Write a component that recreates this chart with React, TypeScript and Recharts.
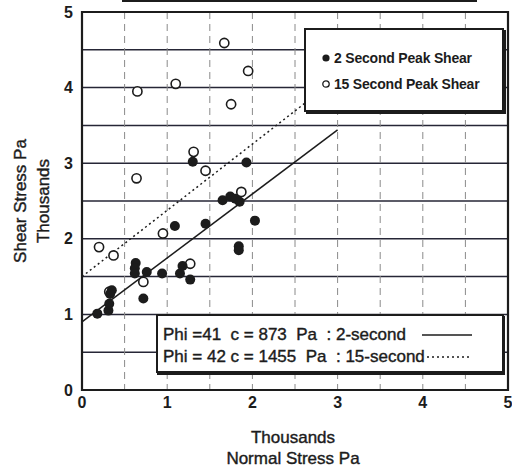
import React from 'react';
import { ScatterChart, Scatter, XAxis, YAxis, CartesianGrid, ReferenceArea } from 'recharts';

const axisTicks = [0, 0.5, 1, 1.5, 2, 2.5, 3, 3.5, 4, 4.5, 5];

const twoSecondPeak = [
  { x: 0.18, y: 1.01 }, { x: 0.31, y: 1.05 }, { x: 0.32, y: 1.14 }, { x: 0.35, y: 1.32 },
  { x: 0.33, y: 1.27 }, { x: 0.63, y: 1.68 }, { x: 0.62, y: 1.61 }, { x: 0.62, y: 1.54 },
  { x: 0.76, y: 1.56 }, { x: 0.72, y: 1.21 }, { x: 0.94, y: 1.54 }, { x: 1.09, y: 2.17 },
  { x: 1.15, y: 1.54 }, { x: 1.18, y: 1.64 }, { x: 1.27, y: 1.46 }, { x: 1.30, y: 3.02 },
  { x: 1.45, y: 2.20 }, { x: 1.65, y: 2.51 }, { x: 1.74, y: 2.56 }, { x: 1.80, y: 2.53 },
  { x: 1.85, y: 2.49 }, { x: 1.84, y: 1.90 }, { x: 1.84, y: 1.85 }, { x: 1.93, y: 3.01 },
  { x: 2.03, y: 2.24 },
];

const fifteenSecondPeak = [
  { x: 0.20, y: 1.89 }, { x: 0.37, y: 1.78 }, { x: 0.32, y: 1.30 }, { x: 0.64, y: 2.80 },
  { x: 0.65, y: 3.95 }, { x: 0.72, y: 1.43 }, { x: 0.95, y: 2.07 }, { x: 1.10, y: 4.05 },
  { x: 1.27, y: 1.67 }, { x: 1.31, y: 3.15 }, { x: 1.45, y: 2.90 }, { x: 1.67, y: 4.59 },
  { x: 1.75, y: 3.78 }, { x: 1.87, y: 2.62 }, { x: 1.95, y: 4.22 },
];

const twoSecondFit = [{ x: 0, y: 0.9 }, { x: 3.0, y: 3.44 }];
const fifteenSecondFit = [{ x: 0, y: 1.5 }, { x: 3.0, y: 4.13 }];

const legendLabels = ['2 Second Peak Shear', '15 Second Peak Shear'];
const fitLabels = ['Phi =41  c = 873  Pa  : 2-second', 'Phi = 42 c = 1455  Pa  : 15-second'];
const xTitle = ['Thousands', 'Normal Stress Pa'];
const yTitle = ['Shear Stress Pa', 'Thousands'];

const INK = '#1c1c1c';
const FONT = '"Liberation Sans", Arial, sans-serif';

const fmt = (v: number) => (Number.isInteger(v) ? String(v) : '');

const FilledDot = (p: any) => <circle cx={p.cx} cy={p.cy} r={5} fill={INK} />;
const OpenDot = (p: any) => (
  <circle cx={p.cx} cy={p.cy} r={4.6} fill="#fff" stroke={INK} strokeWidth={1.6} />
);
const NoDot = () => <g />;

const YTitle = (props: any) => {
  const vb = props.viewBox;
  const cy = vb.y + vb.height / 2;
  const x1 = vb.x + 20;
  const x2 = vb.x + 43;
  return (
    <g fontFamily={FONT} fontSize={17} fill={INK} stroke={INK} strokeWidth={0.4}>
      <text x={x1} y={cy} textAnchor="middle" dominantBaseline="central" transform={`rotate(-90, ${x1}, ${cy})`}>{yTitle[0]}</text>
      <text x={x2} y={cy} textAnchor="middle" dominantBaseline="central" transform={`rotate(-90, ${x2}, ${cy})`}>{yTitle[1]}</text>
    </g>
  );
};

const XTitle = (props: any) => {
  const vb = props.viewBox;
  const cx = vb.x + vb.width / 2 - 2;
  return (
    <g fontFamily={FONT} fontSize={17} fill={INK} stroke={INK} strokeWidth={0.4}>
      <text x={cx} y={vb.y + 47} textAnchor="middle" dominantBaseline="central">{xTitle[0]}</text>
      <text x={cx} y={vb.y + 68} textAnchor="middle" dominantBaseline="central">{xTitle[1]}</text>
    </g>
  );
};

export default function App() {
  return (
    <div style={{ position: 'absolute', left: 0, top: 0, width: 512, height: 472, background: '#fff', fontFamily: FONT }}>
      <div style={{ position: 'absolute', left: 122, top: 0, width: 355, height: 2, background: INK }} />
      <ScatterChart width={512} height={472} margin={{ top: 12, right: 4, bottom: 0, left: 0 }}>
        <CartesianGrid vertical={false} stroke="#262636" strokeWidth={1.5} />
        <CartesianGrid horizontal={false} stroke="#8a8a8a" strokeWidth={1} strokeDasharray="7 5" />
        <XAxis
          type="number"
          dataKey="x"
          domain={[0, 5]}
          ticks={axisTicks}
          tickFormatter={fmt}
          interval={0}
          height={82}
          axisLine={false}
          tickLine={false}
          tickSize={0}
          tickMargin={7}
          tick={{ fontSize: 16, fontWeight: 'bold', fill: INK, fontFamily: FONT }}
          label={XTitle}
        />
        <YAxis
          type="number"
          dataKey="y"
          domain={[0, 5]}
          ticks={axisTicks}
          tickFormatter={fmt}
          interval={0}
          width={82}
          axisLine={false}
          tickLine={false}
          tickSize={0}
          tickMargin={9}
          tick={{ fontSize: 16, fontWeight: 'bold', fill: INK, fontFamily: FONT }}
          label={YTitle}
        />
        <ReferenceArea x1={0} x2={5} y1={0} y2={5} fill="none" stroke={INK} strokeWidth={2.2} ifOverflow="visible" />
        <Scatter data={fifteenSecondFit} line={{ stroke: INK, strokeWidth: 1.5, strokeDasharray: '2 3' }} shape={NoDot} isAnimationActive={false} />
        <Scatter data={twoSecondFit} line={{ stroke: INK, strokeWidth: 1.5 }} shape={NoDot} isAnimationActive={false} />
        <Scatter data={fifteenSecondPeak} shape={OpenDot} isAnimationActive={false} />
        <Scatter data={twoSecondPeak} shape={FilledDot} isAnimationActive={false} />
      </ScatterChart>

      <div style={{ position: 'absolute', left: 304, top: 28, width: 196, height: 80, background: '#fff', border: `2px solid ${INK}`, boxShadow: `2px 2px 0 ${INK}` }}>
        {legendLabels.map((t, i) => (
          <div key={t} style={{ position: 'absolute', left: 15, top: 19 + i * 26, height: 18, display: 'flex', alignItems: 'center', whiteSpace: 'pre', fontSize: 14, fontWeight: 'bold', color: INK, letterSpacing: -0.2 }}>
            <svg width={10} height={10} style={{ marginRight: 3 }}>
              {i === 0 ? <circle cx={5} cy={5} r={3.6} fill={INK} /> : <circle cx={5} cy={5} r={3.2} fill="#fff" stroke={INK} strokeWidth={1.3} />}
            </svg>
            {t}
          </div>
        ))}
      </div>

      <div style={{ position: 'absolute', left: 156, top: 314, width: 344, height: 55, background: '#fff', border: `2px solid ${INK}`, boxShadow: `1px 2px 0 ${INK}` }}>
        {fitLabels.map((t, i) => (
          <div key={t} style={{ position: 'absolute', left: 5, top: 9 + i * 22, height: 20, display: 'flex', alignItems: 'center', whiteSpace: 'pre', fontSize: 17, color: INK, WebkitTextStroke: `0.4px ${INK}` }}>
            {t}
            <svg width={i === 0 ? 62 : 48} height={6} style={{ marginLeft: i === 0 ? 16 : 2 }}>
              <line x1={0} y1={3} x2={i === 0 ? 50 : 44} y2={3} stroke={INK} strokeWidth={1.6} strokeDasharray={i === 0 ? undefined : '2 3'} />
            </svg>
          </div>
        ))}
      </div>
    </div>
  );
}
